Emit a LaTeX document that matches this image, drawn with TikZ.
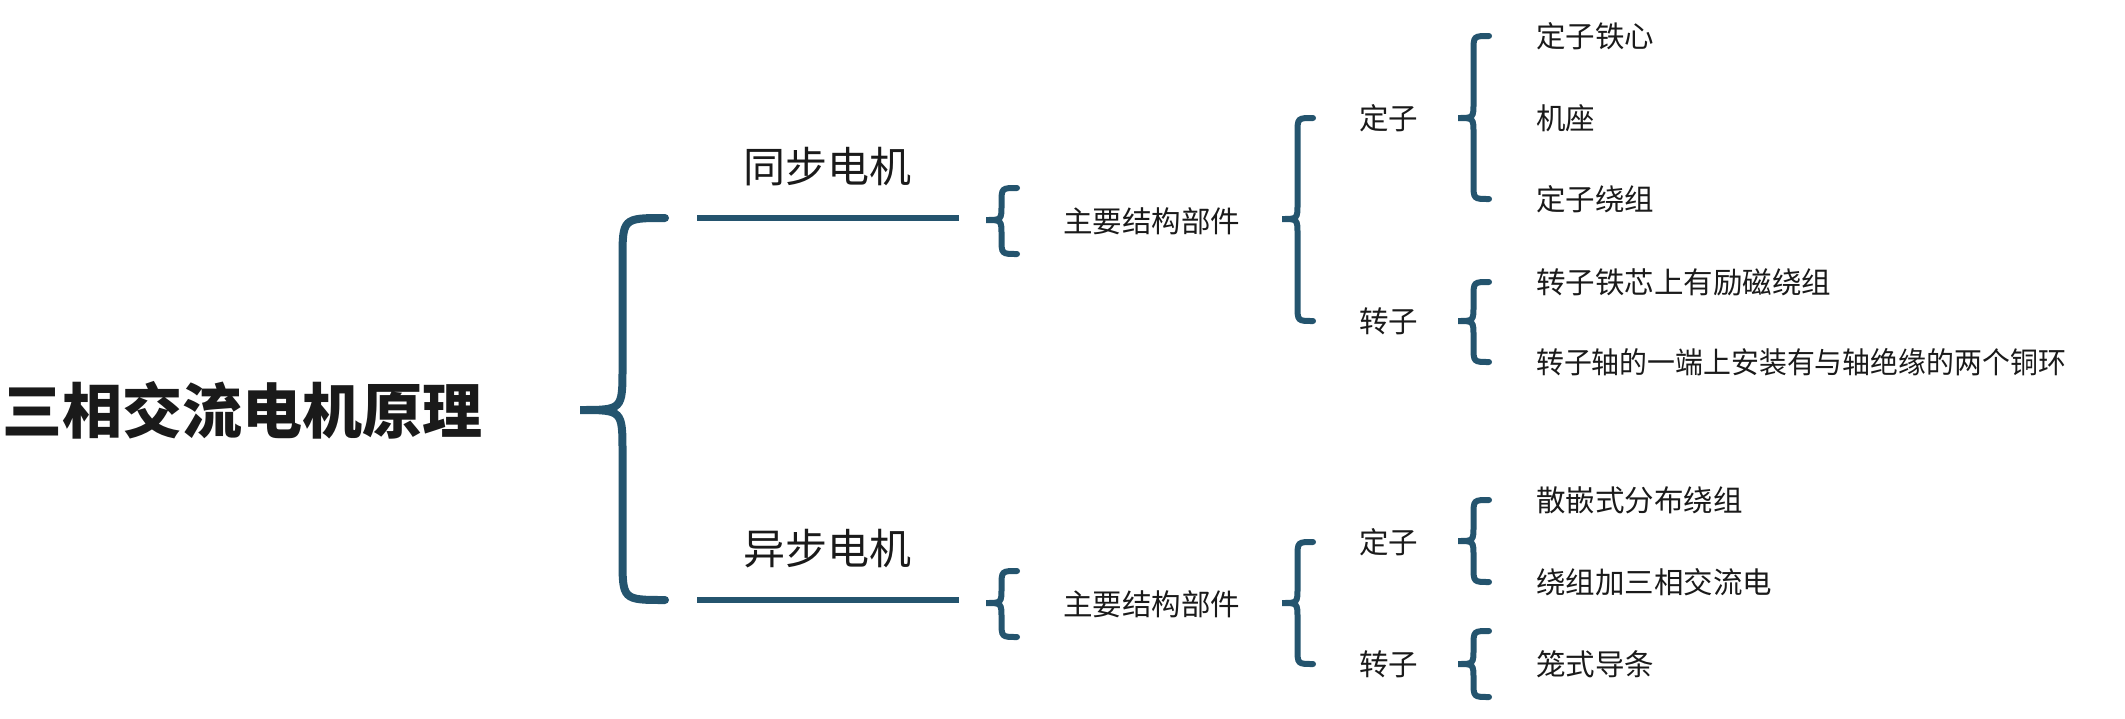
\documentclass[tikz,border=0pt]{standalone}
\usepackage{fontspec}
\setmainfont{Noto Sans CJK SC}
\definecolor{petrol}{HTML}{24546E}
\definecolor{ink}{HTML}{1A1A1A}
\usetikzlibrary{calc}

% curly brace: #2 tip, #3 upper end, #4 lower end, #5 half width
\newcommand{\cbrace}[5][6]{%
	\draw[petrol,line width=#1pt,line cap=round] let \p1=(#2), \p2=(#3), \p3=(#4) in
	(\x1+2*#5,\y2) .. controls (\x1+#5,\y2) .. (\x1+#5,\y2-#5)
	-- (\x1+#5,\y1+#5) .. controls (\x1+#5,\y1) .. (\x1,\y1)
	.. controls (\x1+#5,\y1) .. (\x1+#5,\y1-#5)
	-- (\x1+#5,\y3+#5) .. controls (\x1+#5,\y3) .. (\x1+2*#5,\y3);}

\begin{document}
\begin{tikzpicture}[x=1pt,y=-1pt,
	every node/.style={inner sep=0pt,anchor=west,text=ink},
	leaf/.style={font=\fontsize{29.5}{30}\selectfont},
	head/.style={font=\fontsize{42}{42}\selectfont,anchor=center},
	trunk/.style={petrol,line width=5.5pt}]
	\useasboundingbox (0,0) rectangle (2125,718);
	\node[font=\fontsize{60}{60}\selectfont\bfseries] (root) at (2,410) {三相交流电机原理};
	\coordinate (rt) at (580,410);
	\coordinate (s1) at (697,218); \coordinate (s1e) at (959,218);
	\coordinate (s2) at (697,600); \coordinate (s2e) at (959,600);
	\draw[trunk] (s1) -- (s1e);
	\draw[trunk] (s2) -- (s2e);
	\node[head] (sync) at (827,167) {同步电机};
	\node[head] (async) at (827,549) {异步电机};
	\cbrace[8]{rt}{s1}{s2}{42.5pt}
	% parts
	\node[leaf] (part1) at (1063,221) {主要结构部件};
	\node[leaf] (part2) at (1063,604) {主要结构部件};
	\node[leaf] (st1) at (1359,118) {定子};
	\node[leaf] (ro1) at (1359,321) {转子};
	\node[leaf] (st2) at (1359,542) {定子};
	\node[leaf] (ro2) at (1359,664) {转子};
	\foreach \t/\y/\n in {定子铁心/36/a1, 机座/118/a2, 定子绕组/199/a3,
		转子铁芯上有励磁绕组/282/a4,
		散嵌式分布绕组/500/a6, 绕组加三相交流电/582/a7, 笼式导条/664/a8}
	\node[leaf] (\n) at (1536,\y) {\t};
	\node[leaf] (a5) at (1536,362) {\scalebox{0.945}[1]{转子轴的一端上安装有与轴绝缘的两个铜环}};
	% braces
	\coordinate (t1) at (986,220); \coordinate (t2) at (986,603);
	\coordinate (u1) at (1282,219); \coordinate (u2) at (1282,603);
	\coordinate (v1) at (1458,118); \coordinate (v2) at (1458,321);
	\coordinate (v3) at (1458,541); \coordinate (v4) at (1458,664);
	\cbrace{t1}{$(part1)+(0,-33)$}{$(part1)+(0,33)$}{15.5pt}
	\cbrace{t2}{$(part2)+(0,-33)$}{$(part2)+(0,33)$}{15.5pt}
	\cbrace{u1}{st1}{ro1}{15.5pt}
	\cbrace{u2}{st2}{ro2}{15.5pt}
	\cbrace{v1}{a1}{a3}{15.5pt}
	\cbrace{v2}{a4}{a5}{15.5pt}
	\cbrace{v3}{a6}{a7}{15.5pt}
	\cbrace{v4}{$(a8)+(0,-33)$}{$(a8)+(0,33)$}{15.5pt}
\end{tikzpicture}
\end{document}
